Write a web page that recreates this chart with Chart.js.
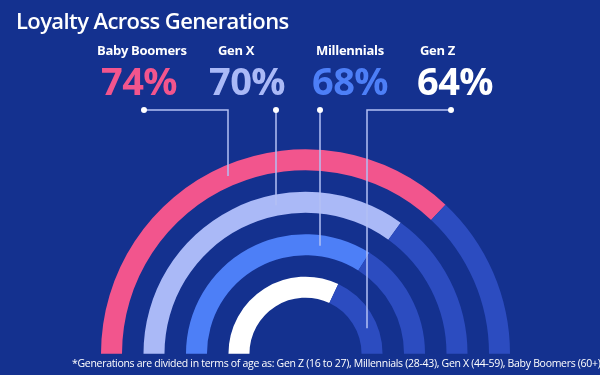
<!DOCTYPE html>
<html>
<head>
<meta charset="utf-8">
<script src="https://cdn.jsdelivr.net/npm/chart.js@4.4.1/dist/chart.umd.min.js"></script>
<style>
  html, body { margin: 0; padding: 0; }
  body { width: 600px; height: 375px; background: #14318f; position: relative; overflow: hidden; font-family: 'Open Sans', sans-serif; color: #fff; }
  #wrap { position: absolute; left: 0; top: 0; width: 600px; height: 375px; }
  .title { position: absolute; left: 16px; top: 5px; font-size: 22px; font-weight: 600; letter-spacing: -0.6px; white-space: nowrap; }
  .gen { position: absolute; top: 41px; font-size: 13px; font-weight: 700; letter-spacing: -0.3px; white-space: nowrap; }
  .pct { position: absolute; top: 54px; font-size: 38px; font-weight: 700; letter-spacing: -0.6px; white-space: nowrap; }
  .note { position: absolute; left: 72px; top: 356px; font-size: 10.5px; letter-spacing: -0.3px; white-space: nowrap; }
</style>
</head>
<body>
<div id="wrap"><canvas id="chart" width="600" height="375"></canvas></div>
<div class="title">Loyalty Across Generations</div>
<div id="labels"></div>
<div class="note">*Generations are divided in terms of age as: Gen Z (16 to 27), Millennials (28-43), Gen X (44-59), Baby Boomers (60+)</div>

<script>
const generations = ['Baby Boomers', 'Gen X', 'Millennials', 'Gen Z'];
const loyalty = [74, 70, 68, 64];
const ringColors = ['#f2558d', '#aab9f7', '#4d7ff7', '#ffffff'];
const trackColor = '#2c4cc0';
const lineColor = '#b3c0f5';

// label + leader line placement (layout only)
const labelX = [97, 218, 316, 420];
const pctX = [101, 209, 312, 417];
const dotX = [144, 276, 320, 451];
const dropX = [228, 276, 320, 367];
const dotY = 110;

const labelsEl = document.getElementById('labels');
generations.forEach((g, i) => {
  const a = document.createElement('div');
  a.className = 'gen';
  a.style.left = labelX[i] + 'px';
  a.textContent = g;
  labelsEl.appendChild(a);
  const b = document.createElement('div');
  b.className = 'pct';
  b.style.left = pctX[i] + 'px';
  b.style.color = ringColors[i];
  b.textContent = loyalty[i] + '%';
  labelsEl.appendChild(b);
});

// rings with transparent spacer rings between them
const datasets = [];
loyalty.forEach((v, i) => {
  if (i > 0) {
    datasets.push({ data: [100], backgroundColor: ['rgba(0,0,0,0)'], weight: 21.5, borderWidth: 0 });
  }
  datasets.push({
    label: generations[i],
    data: [v, 100 - v],
    backgroundColor: [ringColors[i], trackColor],
    weight: 21,
    borderWidth: 0,
  });
});

const leaderLines = {
  id: 'leaderLines',
  afterDatasetsDraw(chart) {
    const ctx = chart.ctx;
    ctx.save();
    ctx.strokeStyle = lineColor;
    ctx.lineWidth = 1.5;
    generations.forEach((g, i) => {
      const arc = chart.getDatasetMeta(i * 2).data[0];
      const r = (arc.innerRadius + arc.outerRadius) / 2;
      const dx = dropX[i] - arc.x;
      const endY = arc.y - Math.sqrt(Math.max(r * r - dx * dx, 0));
      ctx.beginPath();
      ctx.moveTo(dotX[i], dotY);
      ctx.lineTo(dropX[i], dotY);
      ctx.lineTo(dropX[i], endY);
      ctx.stroke();
      ctx.fillStyle = '#ffffff';
      ctx.beginPath();
      ctx.arc(dotX[i], dotY, 3, 0, Math.PI * 2);
      ctx.fill();
    });
    ctx.restore();
  }
};

new Chart(document.getElementById('chart'), {
  type: 'doughnut',
  data: { labels: ['Loyal', 'Rest'], datasets },
  options: {
    responsive: false,
    animation: false,
    rotation: -90,
    circumference: 180,
    cutout: '27.4%',
    layout: { padding: { left: 101, right: 90, top: 149, bottom: 21 } },
    plugins: { legend: { display: false }, tooltip: { enabled: false } },
    events: [],
  },
  plugins: [leaderLines],
});
</script>
</body>
</html>
